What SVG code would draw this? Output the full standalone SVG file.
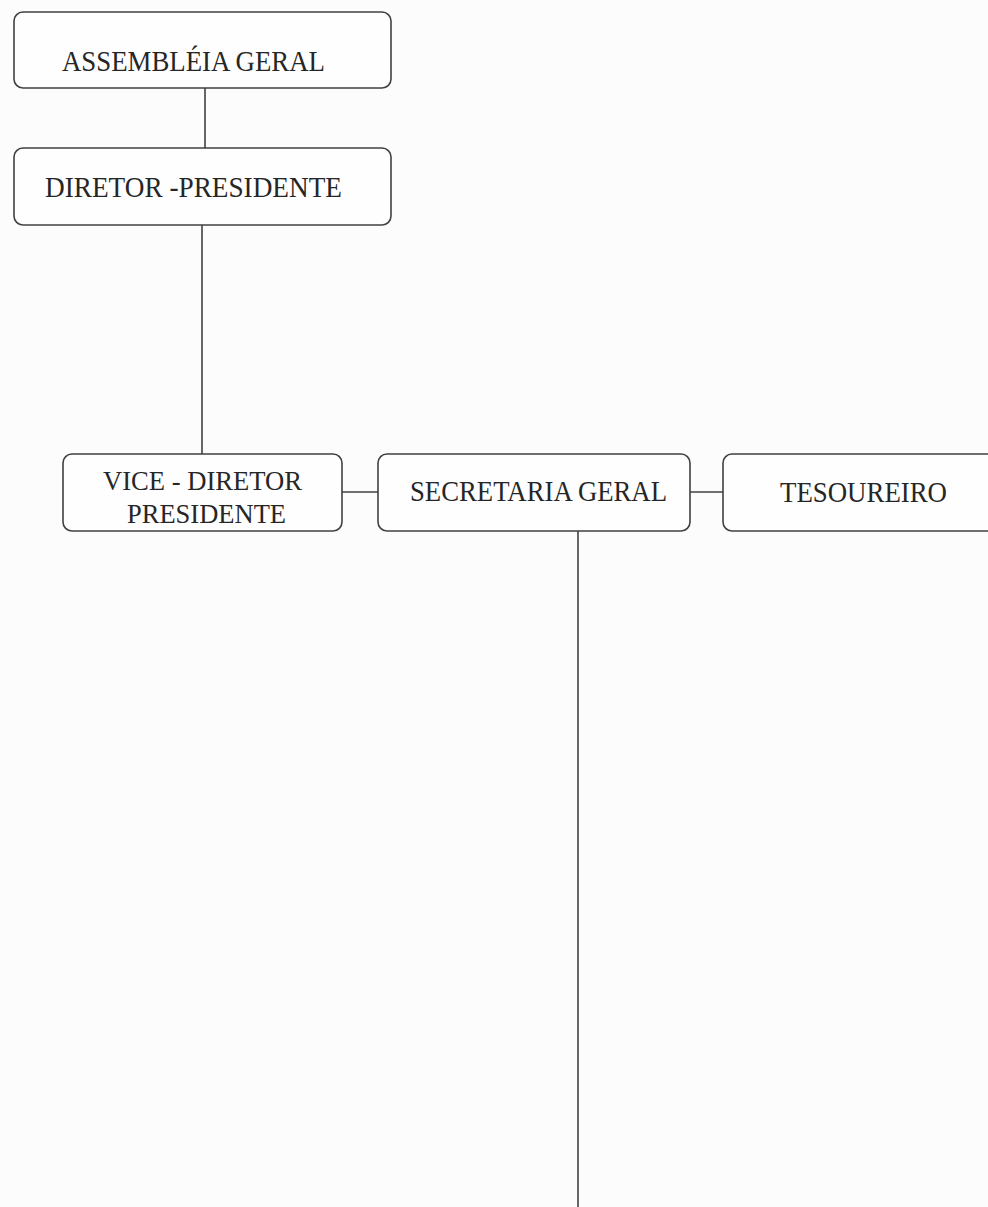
<svg xmlns="http://www.w3.org/2000/svg" width="988" height="1207" viewBox="0 0 988 1207">
<style>
.box{fill:#fefefe;stroke:#404040;stroke-width:1.6}
.lbl{font-family:"Liberation Serif","Times New Roman",serif;font-size:30px;fill:#262626}
.sm{font-size:28px}
.ln{stroke:#404040;stroke-width:1.6;fill:none}
</style>
<rect x="0" y="0" width="988" height="1207" fill="#fcfcfc"/>
<g id="connectors">
<line class="ln" x1="205" y1="88" x2="205" y2="148"/>
<line class="ln" x1="202" y1="225" x2="202" y2="454"/>
<line class="ln" x1="342" y1="492" x2="378" y2="492"/>
<line class="ln" x1="690" y1="492" x2="723" y2="492"/>
<line class="ln" x1="578" y1="531" x2="578" y2="1207"/>
</g>
<g id="assembleia">
<rect class="box" x="14" y="12" width="377" height="76" rx="9"/>
<text class="lbl" x="62" y="71" textLength="263" lengthAdjust="spacingAndGlyphs">ASSEMBLÉIA GERAL</text>
</g>
<g id="diretor">
<rect class="box" x="14" y="148" width="377" height="77" rx="9"/>
<text class="lbl" x="45" y="197" textLength="297" lengthAdjust="spacingAndGlyphs">DIRETOR -PRESIDENTE</text>
</g>
<g id="vice">
<rect class="box" x="63" y="454" width="279" height="77" rx="9"/>
<text class="lbl sm" x="103" y="490" textLength="199" lengthAdjust="spacingAndGlyphs">VICE - DIRETOR</text>
<text class="lbl sm" x="127" y="523" textLength="159" lengthAdjust="spacingAndGlyphs">PRESIDENTE</text>
</g>
<g id="secretaria">
<rect class="box" x="378" y="454" width="312" height="77" rx="9"/>
<text class="lbl" x="410" y="501" textLength="257" lengthAdjust="spacingAndGlyphs">SECRETARIA GERAL</text>
</g>
<g id="tesoureiro">
<rect class="box" x="723" y="454" width="290" height="77" rx="9"/>
<text class="lbl" x="780" y="502" textLength="167" lengthAdjust="spacingAndGlyphs">TESOUREIRO</text>
</g>
</svg>
